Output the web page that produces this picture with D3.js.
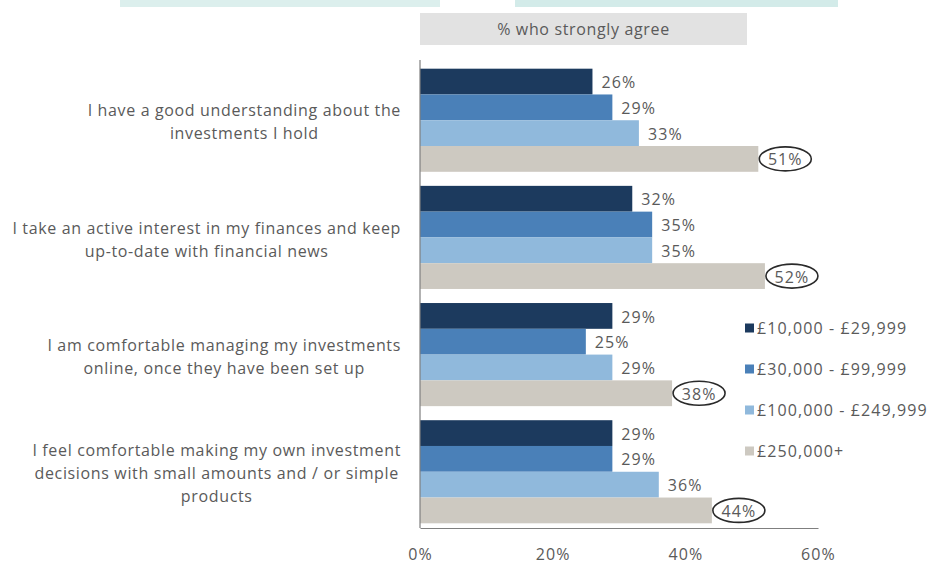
<!DOCTYPE html>
<html>
<head>
<meta charset="utf-8">
<script src="https://cdn.jsdelivr.net/npm/d3@7"></script>
<style>
  html, body { margin: 0; padding: 0; background: #fff; }
  svg { display: block; font-family: "Open Sans", Lato, sans-serif; }
</style>
</head>
<body>
<svg id="chart" width="930" height="568"></svg>
<script>
// Statements (each split into its display lines)
const statements = [
  ["I have a good understanding about the", "investments I hold"],
  ["I take an active interest in my finances and keep", "up-to-date with financial news"],
  ["I am comfortable managing my investments", "online, once they have been set up"],
  ["I feel comfortable making my own investment", "decisions with small amounts and / or simple", "products"]
];

// Investable-asset bands
const seriesNames = ["£10,000 - £29,999", "£30,000 - £99,999", "£100,000 - £249,999", "£250,000+"];

// % who strongly agree, one array per band, in statement order
const band10k = [26, 32, 29, 29];
const band30k = [29, 35, 25, 29];
const band100k = [33, 35, 29, 36];
const band250k = [51, 52, 38, 44];

const xTicks = [0, 20, 40, 60];
const headerText = "% who strongly agree";

const seriesValues = [band10k, band30k, band100k, band250k];
const colors = ["#1c3a5e", "#4a80b8", "#90b9dc", "#cdc9c1"];
const textColor = "#5a5a5a";
const fs = 16;
const lsWords = "0.65px";   // letter spacing for sentence text
const lsNums = "1.1px";     // letter spacing for figures

const svg = d3.select("#chart");

// decorative teal strips along the top edge
svg.append("rect").attr("x", 120).attr("y", 0).attr("width", 320).attr("height", 7).attr("fill", "#dcefed");
svg.append("rect").attr("x", 515).attr("y", 0).attr("width", 323).attr("height", 7).attr("fill", "#d3ebe9");

const x = d3.scaleLinear().domain([0, 60]).range([420, 818]);
const y = d3.scaleBand().domain(d3.range(statements.length)).range([64, 528])
  .paddingInner(0.12).paddingOuter(0.04);
const ySub = d3.scaleBand().domain(d3.range(seriesNames.length)).range([0, y.bandwidth()]);

// header box
svg.append("rect").attr("x", x(0)).attr("y", 13).attr("width", 327).attr("height", 32).attr("fill", "#e2e2e2");
svg.append("text").attr("x", x(0) + 327 / 2).attr("y", 29).attr("dy", "0.35em")
  .attr("text-anchor", "middle").attr("font-size", fs).attr("letter-spacing", lsWords)
  .attr("fill", textColor).text(headerText);

// bars
const groups = svg.selectAll("g.group").data(statements).join("g")
  .attr("class", "group").attr("transform", (d, i) => `translate(0,${y(i)})`);

groups.each(function(d, i) {
  const g = d3.select(this);
  seriesValues.forEach((vals, s) => {
    const v = vals[i];
    g.append("rect")
      .attr("x", x(0)).attr("y", ySub(s))
      .attr("width", x(v) - x(0)).attr("height", ySub.bandwidth())
      .attr("fill", colors[s]);
    const cy = ySub(s) + ySub.bandwidth() / 2 + 1;
    if (s === seriesNames.length - 1) {
      const cx = x(v) + 27;
      g.append("ellipse").attr("cx", cx).attr("cy", cy - 1).attr("rx", 26).attr("ry", 12)
        .attr("fill", "none").attr("stroke", "#2a2a2a").attr("stroke-width", 1.6);
      g.append("text").attr("x", cx).attr("y", cy).attr("dy", "0.35em")
        .attr("text-anchor", "middle").attr("font-size", fs).attr("letter-spacing", lsNums)
        .attr("fill", textColor).text(v + "%");
    } else {
      g.append("text").attr("x", x(v) + 9).attr("y", cy).attr("dy", "0.35em")
        .attr("font-size", fs).attr("letter-spacing", lsNums)
        .attr("fill", textColor).text(v + "%");
    }
  });
});

// category labels: block right-aligned, lines centred within the block
const lineH = 23;
const labelRight = 401;
statements.forEach((lines, i) => {
  const t = svg.append("text").attr("font-size", fs).attr("letter-spacing", lsWords)
    .attr("fill", textColor).attr("text-anchor", "middle");
  const cy = y(i) + y.bandwidth() / 2 + 2;
  const spans = lines.map((ln, k) => t.append("tspan").text(ln)
    .attr("y", cy + (k - (lines.length - 1) / 2) * lineH).attr("dy", "0.35em"));
  const maxW = d3.max(spans, s => s.node().getComputedTextLength());
  spans.forEach(s => s.attr("x", labelRight - maxW / 2));
});

// axes
const axisColor = "#7f7f7f";
svg.append("line").attr("x1", x(0)).attr("x2", x(0)).attr("y1", 60).attr("y2", 528)
  .attr("stroke", axisColor).attr("stroke-width", 1.2);
const xAxis = svg.append("g").attr("transform", "translate(0,528)")
  .call(d3.axisBottom(x).tickValues(xTicks).tickFormat(d => d + "%").tickSize(0).tickPadding(21));
xAxis.select(".domain").attr("stroke", axisColor).attr("stroke-width", 1.2);
xAxis.selectAll("text").attr("font-size", fs).attr("letter-spacing", lsNums)
  .attr("fill", textColor).attr("font-family", "'Open Sans', sans-serif");

// legend
const legend = svg.append("g").attr("transform", "translate(745,328)");
seriesNames.forEach((name, s) => {
  const row = legend.append("g").attr("transform", `translate(0,${s * 41})`);
  row.append("rect").attr("x", 0).attr("y", -4.5).attr("width", 9).attr("height", 9).attr("fill", colors[s]);
  row.append("text").attr("x", 12).attr("y", 0).attr("dy", "0.35em")
    .attr("font-size", fs).attr("letter-spacing", lsNums).attr("fill", textColor).text(name);
});
</script>
</body>
</html>
